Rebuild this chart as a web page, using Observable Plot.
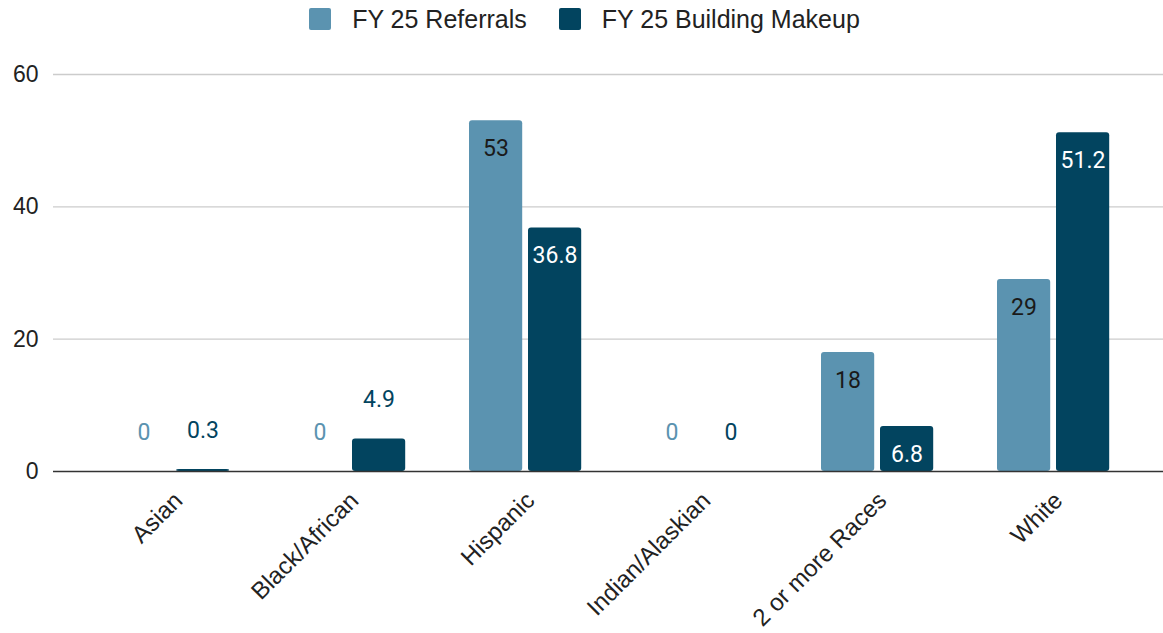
<!DOCTYPE html>
<html><head><meta charset="utf-8">
<script src="https://cdn.jsdelivr.net/npm/d3@7"></script>
<script src="https://cdn.jsdelivr.net/npm/@observablehq/plot@0.6"></script>
<style>
body{margin:0;background:#fff;font-family:"Liberation Sans",Arial,sans-serif;}
#legend{height:38px;display:flex;justify-content:center;align-items:center;font-size:25px;color:#222;padding-left:6px;}
.item{display:flex;align-items:center;margin:0 16px;}
.sw{width:22px;height:22px;border-radius:2px;margin-right:21px;}
</style></head><body>
<div id="legend"></div><div id="chart"></div>
<script>
const categories = ["Asian","Black/African","Hispanic","Indian/Alaskian","2 or more Races","White"];
const seriesNames = ["FY 25 Referrals","FY 25 Building Makeup"];
const referrals = [0,0,53,0,18,29];
const buildingMakeup = [0.3,4.9,36.8,0,6.8,51.2];
const yTicks = [0,20,40,60];
const colors = ["#5b93b0","#02445f"];

const legend = document.getElementById("legend");
seriesNames.forEach((s,i)=>{
  const it = document.createElement("div"); it.className="item";
  const sw = document.createElement("div"); sw.className="sw"; sw.style.background=colors[i];
  const t = document.createElement("span"); t.textContent=s;
  it.append(sw,t); legend.append(it);
});

const d1 = categories.map((c,i)=>({category:c, value:referrals[i]}));
const d2 = categories.map((c,i)=>({category:c, value:buildingMakeup[i]}));
const inside = d => d.value >= 6;
const numFont = "Roboto, sans-serif";

const chart = Plot.plot({
  width: 1163, height: 595,
  marginLeft: 53, marginRight: 0, marginTop: 36, marginBottom: 162,
  style: {fontFamily: "'Liberation Sans', Arial, sans-serif", fontSize: "22px", color: "#222", background: "#fff"},
  x: {domain: categories, range: [82, 1143], padding: 0, label: null},
  y: {domain: [0, 60], label: null},
  marks: [
    Plot.ruleY(yTicks.filter(d=>d>0), {stroke: "#ccc", strokeWidth: 1.3, strokeOpacity: 1}),
    Plot.barY(d1, {x: "category", y: "value", fill: colors[0], insetLeft: 32, insetRight: 90.8, rx: 3}),
    Plot.barY(d2, {x: "category", y: "value", fill: colors[1], insetLeft: 91, insetRight: 31.8, rx: 3}),
    Plot.ruleY([0], {stroke: "#333", strokeWidth: 1.5}),
    Plot.text(d1.filter(inside), {x: "category", y: "value", text: d=>String(d.value), dx: -29.5, dy: 28, fill: "#1a1a1a", fontSize: 23, fontFamily: numFont}),
    Plot.text(d2.filter(inside), {x: "category", y: "value", text: d=>String(d.value), dx: 29.5, dy: 28, fill: "#fff", fontSize: 23, fontFamily: numFont}),
    Plot.text(d1.filter(d=>!inside(d)), {x: "category", y: "value", text: d=>String(d.value), dx: -29.5, dy: -39, fill: colors[0], fontSize: 23, fontFamily: numFont}),
    Plot.text(d2.filter(d=>!inside(d)), {x: "category", y: "value", text: d=>String(d.value), dx: 29.5, dy: -39, fill: colors[1], fontSize: 23, fontFamily: numFont}),
    Plot.axisY({ticks: yTicks, tickSize: 0, tickPadding: 15, fontSize: 23, label: null}),
    Plot.axisX({tickRotate: -45, tickSize: 0, tickPadding: 25, dx: 5, fontSize: 24, label: null})
  ]
});
document.getElementById("chart").append(chart);
</script>
</body></html>
